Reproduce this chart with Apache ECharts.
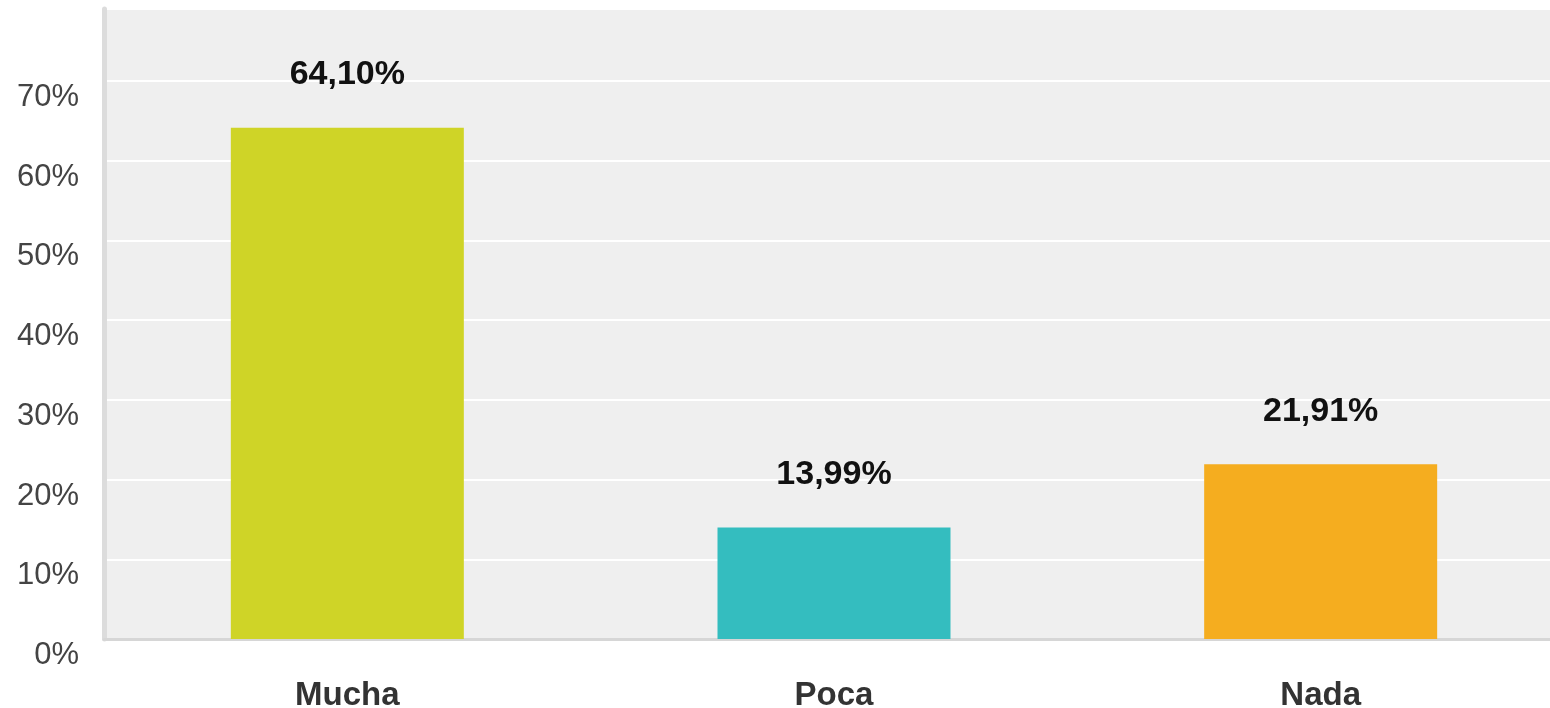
<!DOCTYPE html>
<html>
<head>
<meta charset="utf-8">
<script src="https://cdn.jsdelivr.net/npm/echarts@6/dist/echarts.min.js"></script>
<style>
html,body{margin:0;padding:0;background:#fff;}
#chart{width:1550px;height:708px;}
</style>
</head>
<body>
<div id="chart"></div>
<script>
const categories = ['Mucha', 'Poca', 'Nada'];
const values = [64.10, 13.99, 21.91];
const barColors = ['#CFD427', '#34BDBF', '#F5AD1F'];
const yMin = 0, yMax = 79, yStep = 10;

const chart = echarts.init(document.getElementById('chart'));
chart.setOption({
  animation: false,
  grid: {
    left: 104, top: 9, bottom: 69, right: -14,
    outerBoundsMode: 'none', containLabel: false,
    show: true, backgroundColor: '#EFEFEF', borderWidth: 0
  },
  xAxis: {
    type: 'category',
    data: categories,
    axisLine: {show: true, lineStyle: {color: '#D6D6D6', width: 3}},
    axisTick: {show: false},
    axisLabel: {
      margin: 40, color: '#333', fontSize: 33, fontWeight: 'bold',
      fontFamily: 'Liberation Sans, Arial, sans-serif'
    }
  },
  yAxis: {
    type: 'value',
    min: yMin, max: yMax, interval: yStep,
    axisLine: {show: true, lineStyle: {color: '#DCDCDC', width: 5}},
    axisTick: {show: false},
    splitLine: {show: true, lineStyle: {color: '#FFFFFF', width: 2}},
    axisLabel: {
      showMaxLabel: false,
      margin: 25, color: '#444', fontSize: 31,
      fontFamily: 'Liberation Sans, Arial, sans-serif',
      verticalAlign: 'top', padding: [1, 0, 0, 0],
      formatter: v => v + '%'
    }
  },
  series: [{
    type: 'bar',
    barWidth: 233,
    data: values.map((v, i) => ({value: v, itemStyle: {color: barColors[i]}})),
    label: {
      show: true, position: 'top', distance: 36,
      color: '#111', fontSize: 34, fontWeight: 'bold',
      fontFamily: 'Liberation Sans, Arial, sans-serif',
      formatter: p => p.value.toFixed(2).replace('.', ',') + '%'
    }
  }]
});
</script>
</body>
</html>
